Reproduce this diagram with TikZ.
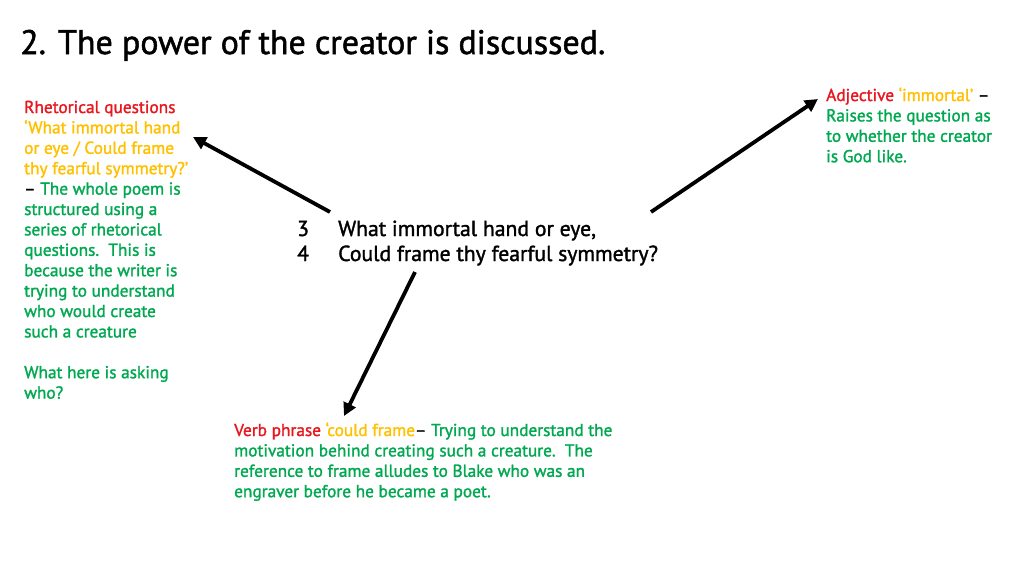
\documentclass[tikz,border=0pt]{standalone}
\usepackage{fontspec}
\setmainfont{PT Sans}
\newfontfamily\medf{PT Sans}[BoldFont={PT Sans}, BoldFeatures={FakeBold=1.5}]
\usetikzlibrary{arrows.meta}
\definecolor{cred}{RGB}{232,22,30}
\definecolor{cyel}{RGB}{255,192,0}
\definecolor{cgrn}{RGB}{0,168,80}
\begin{document}
\begin{tikzpicture}[x=1pt,y=-1pt,
  blk/.style={anchor=base west, inner sep=0, align=left, text=cgrn,
    font=\fontsize{17.3}{20.4}\medf\bfseries},
  arr/.style={line width=3.8pt, -{Triangle[length=13pt,width=13pt]}}]
\useasboundingbox (0,0) rectangle (1024,576);
\node[anchor=base west, inner sep=0, font=\fontsize{34}{38}\medf\bfseries] (title) at (20,54)
  {2. The power of the creator is discussed.};
\node[blk] (left) at (24,398.6) {%
  {\color{cred}Rhetorical questions}\\
  {\color{cyel}‘What immortal hand}\\
  {\color{cyel}or eye / Could frame}\\
  {\color{cyel}thy fearful symmetry?’}\\
  {\color{black}–} The whole poem is\\
  structured using a\\
  series of rhetorical\\
  questions.\ \ This is\\
  because the writer is\\
  trying to understand\\
  who would create\\
  such a creature\\[20.4pt]
  What here is asking\\
  who?};
\node[blk] (right) at (826,162.2) {%
  {\color{cred}Adjective} {\color{cyel}‘immortal’} {\color{black}–}\\
  Raises the question as\\
  to whether the creator\\
  is God like.};
\node[blk] (bottom) at (234,497.2) {%
  {\color{cred}Verb phrase} {\color{cyel}‘could frame}{\color{black}–} Trying to understand the\\
  motivation behind creating such a creature.\ \ The\\
  reference to frame alludes to Blake who was an\\
  engraver before he became a poet.};
\node[anchor=base west, inner sep=0, align=left, font=\fontsize{21.7}{25}\medf\bfseries] (poem) at (297,261) {%
  \makebox[41pt][l]{3}What immortal hand or eye,\\
  \makebox[41pt][l]{4}Could frame thy fearful symmetry?};
\coordinate (t1) at (330,212);
\coordinate (t2) at (651,212);
\coordinate (t3) at (415,272);
\coordinate (h1) at (193,137);
\coordinate (h2) at (818,99);
\coordinate (h3) at (344,416);
\draw[arr] (t1) -- (h1);
\draw[arr] (t2) -- (h2);
\draw[arr] (t3) -- (h3);
\end{tikzpicture}
\end{document}
